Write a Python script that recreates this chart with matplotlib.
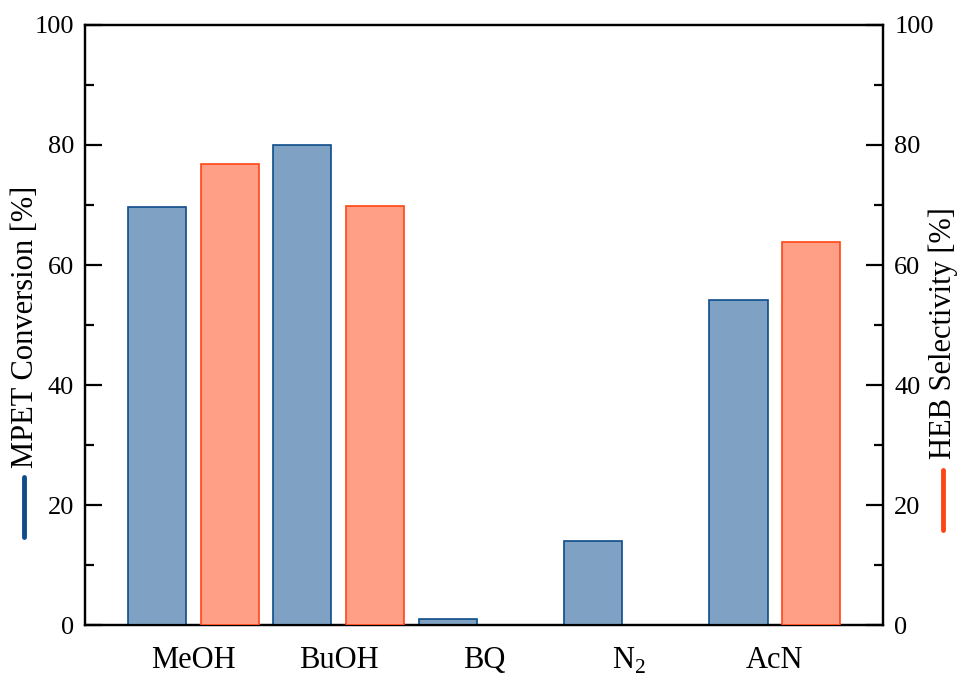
import matplotlib
matplotlib.use("Agg")
import matplotlib.pyplot as plt
import numpy as np
from matplotlib.lines import Line2D
from matplotlib.ticker import MultipleLocator

plt.rcParams['font.family'] = ['Liberation Serif', 'DejaVu Serif']
plt.rcParams['mathtext.fontset'] = 'custom'
plt.rcParams['mathtext.rm'] = 'Liberation Serif'

categories = ["MeOH", "BuOH", "BQ", r"N$_{\mathrm{2}}$", "AcN"]
conversion = [69.7, 80.0, 1.0, 14.0, 54.2]
selectivity = [76.9, 69.8, 0.0, 0.0, 63.8]

blue_edge = "#0e4c8a"
blue_fill = "#7fa2c4"
red_edge = "#ff4515"
red_fill = "#ff9f86"

fig = plt.figure(figsize=(9.62, 6.79), dpi=100)
ax = fig.add_axes([0.0884, 0.0795, 0.8296, 0.8837])
ax2 = ax.twinx()

x = np.arange(len(categories))
w = 0.4
off = 0.25
ax.bar(x - off, conversion, w, color=blue_fill, edgecolor=blue_edge, linewidth=1.2, zorder=3)
sel_x = [xi + off for xi, v in zip(x, selectivity) if v > 0]
sel_v = [v for v in selectivity if v > 0]
ax2.bar(sel_x, sel_v, w, color=red_fill, edgecolor=red_edge, linewidth=1.2, zorder=3)

for a in (ax, ax2):
    a.set_ylim(0, 100)
    a.set_xlim(-0.745, 4.745)
    a.yaxis.set_major_locator(MultipleLocator(20))
    a.yaxis.set_minor_locator(MultipleLocator(10))
    for s in a.spines.values():
        s.set_linewidth(1.6)

for a in (ax, ax2):
    a.tick_params(axis='y', which='major', direction='in', length=12, width=1.6, labelsize=19, pad=8)
    a.tick_params(axis='y', which='minor', direction='in', length=6.5, width=1.6)
ax.set_xticks(x)
ax.set_xticklabels(categories, fontsize=22)
ax.tick_params(axis='x', length=0, pad=15)

fig.text(0.026, 1 - 327 / 679, "MPET Conversion [%]", rotation=90, fontsize=22,
         ha='center', va='center')
fig.text(0.980, 1 - 333 / 679, "HEB Selectivity [%]", rotation=90, fontsize=22,
         ha='center', va='center')
fig.add_artist(Line2D([0.025, 0.025], [1 - 537 / 679, 1 - 477 / 679], color=blue_edge,
                      linewidth=3.5, solid_capstyle='round', transform=fig.transFigure))
fig.add_artist(Line2D([0.9805, 0.9805], [1 - 530 / 679, 1 - 470 / 679], color=red_edge,
                      linewidth=3.5, solid_capstyle='round', transform=fig.transFigure))

fig.savefig("out.png", dpi=100)
